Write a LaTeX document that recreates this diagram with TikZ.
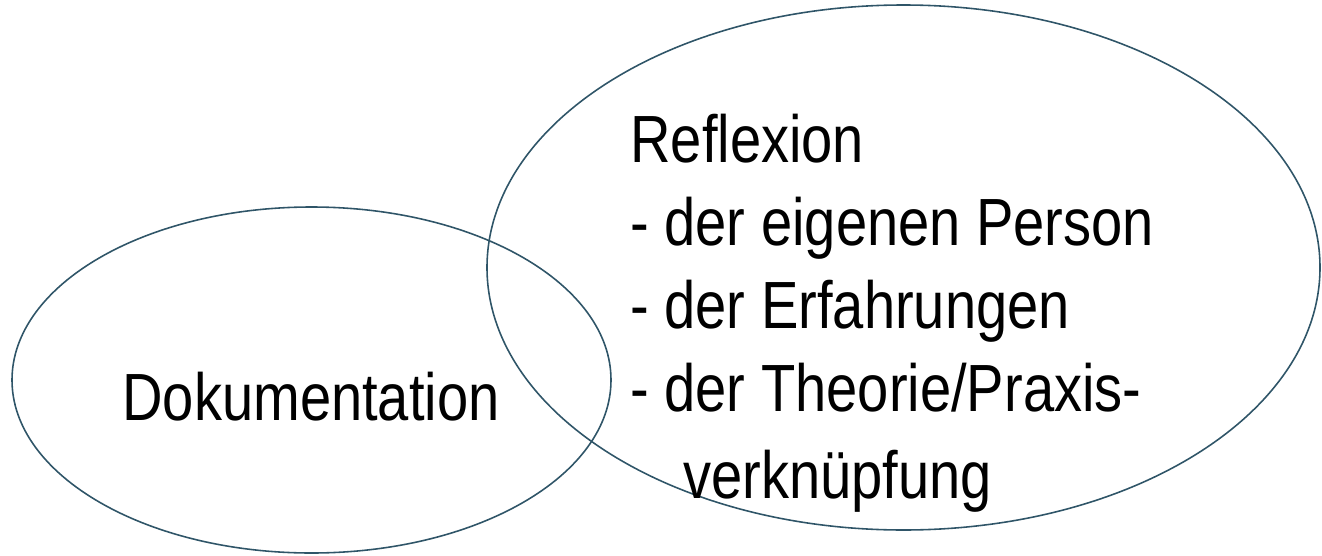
\documentclass[tikz,border=0pt]{standalone}
\usepackage{fontspec}
\newfontfamily\vennfont{Liberation Sans}[FakeStretch=0.84]
\usetikzlibrary{shapes.geometric, positioning}
\definecolor{vennline}{RGB}{47, 85, 104}

\begin{document}
\begin{tikzpicture}[
    font=\vennfont\fontsize{38}{47.2}\selectfont,
    venn/.style={ellipse, draw=vennline, line width=0.9pt, inner sep=0pt},
    label/.style={inner sep=0pt, align=left}
]
\useasboundingbox (0,0) rectangle (26.44,11.1);

% Ellipses
\node[venn, minimum width=11.98cm, minimum height=6.92cm] (doku) at (6.23, 3.5) {};
\node[venn, minimum width=16.66cm, minimum height=10.5cm] (refl) at (18.07, 5.75) {};

% Texts
\node[label, anchor=base] (dokutext) at (6.22, 2.7) {Dokumentation};
\node[label, anchor=north west] (refltext) at (12.6, 8.82) {
    Reflexion\\
    - der eigenen Person\\
    - der Erfahrungen\\
    - der Theorie/Praxis-\\[2pt]
    \hspace*{1.06cm}verknüpfung
};

\end{tikzpicture}
\end{document}
